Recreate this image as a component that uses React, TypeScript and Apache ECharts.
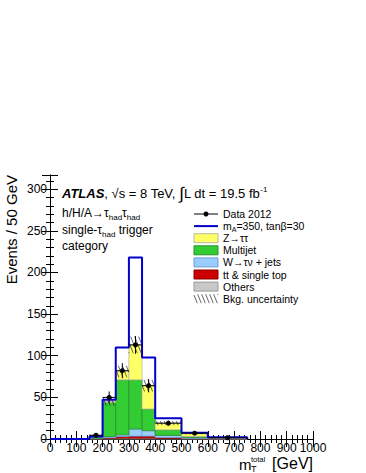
import React, { useEffect, useRef } from 'react';
import * as echarts from 'echarts';

// Histogram bins (GeV), values in Events / 50 GeV
const binEdges = [150, 200, 250, 300, 350, 400, 500, 600, 750];
const others = [0.2, 0.5, 1, 1, 1, 0.6, 0.3, 0.1];
const ttbar = [0.3, 1, 2, 2.5, 2.5, 1.2, 0.4, 0.1];
const wjets = [0.5, 1.5, 2, 8.5, 6.5, 2.5, 1, 0.3];
const multijet = [2.5, 41, 66, 59, 26, 6.7, 1.3, 0.5];
const ztautau = [0.9, 1, 10, 42, 28, 8, 3.5, 0.5];
const bkgUnc = [1, 5, 7, 10, 7, 2.5, 1, 0.5];
const signalEdges = [0, 150, 200, 250, 300, 350, 400, 500, 600, 750];
const signalTotal = [0, 3, 47, 110, 218, 98, 25, 7.5, 2];
const dataValues = [4.5, 50, 82, 113, 64, 19, 7, 1.5];

const FONT = 'Liberation Sans, Arial, Helvetica, sans-serif';

const components = [
  { name: 'Others', values: others, fill: '#c8c8c8', stroke: '#9a9a9a' },
  { name: 'tt & single top', values: ttbar, fill: '#cc0000', stroke: '#8a0000' },
  { name: 'W→τν + jets', values: wjets, fill: '#99ccff', stroke: '#6f9fd8' },
  { name: 'Multijet', values: multijet, fill: '#33cc33', stroke: '#2a8f2a' },
  { name: 'Z→ττ', values: ztautau, fill: '#ffff66', stroke: '#b8b8a0' },
];

function buildStackSeries() {
  const base = binEdges.slice(0, -1).map(() => 0);
  return components.map((c) => {
    const data = c.values.map((v, i) => {
      const item = [binEdges[i], binEdges[i + 1], base[i], base[i] + v];
      base[i] += v;
      return item;
    });
    return {
      type: 'custom',
      name: c.name,
      data,
      encode: { x: [0, 1], y: [2, 3] },
      z: 2,
      renderItem: (params: any, api: any) => {
        const p0 = api.coord([api.value(0), api.value(3)]);
        const p1 = api.coord([api.value(1), api.value(2)]);
        return {
          type: 'rect',
          shape: { x: p0[0], y: p0[1], width: p1[0] - p0[0], height: p1[1] - p0[1] },
          style: { fill: c.fill, stroke: c.stroke, lineWidth: 0.8 },
        };
      },
    };
  });
}

function hatchLines(xL: number, xR: number, yT: number, yB: number, k: number, step: number, width: number) {
  const lines: any[] = [];
  const cMin = yT - k * xR;
  const cMax = yB - k * xL;
  for (let c = Math.ceil(cMin / step) * step; c <= cMax; c += step) {
    const xs = Math.max(xL, (yT - c) / k);
    const xe = Math.min(xR, (yB - c) / k);
    if (xe > xs) {
      lines.push({
        type: 'line',
        shape: { x1: xs, y1: k * xs + c, x2: xe, y2: k * xe + c },
        style: { stroke: '#000', lineWidth: width },
      });
    }
  }
  return lines;
}

export default function App() {
  const ref = useRef<HTMLDivElement>(null);
  useEffect(() => {
    if (!ref.current) return;
    const chart = echarts.init(ref.current, null, { renderer: 'svg' });

    const totals = binEdges.slice(0, -1).map((_, i) =>
      components.reduce((s, c) => s + c.values[i], 0)
    );
    const uncData = totals.map((t, i) => [binEdges[i], binEdges[i + 1], t - bkgUnc[i], t + bkgUnc[i]]);

    const signalPoints: number[][] = signalTotal.map((v, i) => [signalEdges[i], v]);
    signalPoints.push([signalEdges[signalEdges.length - 1], signalTotal[signalTotal.length - 1]]);
    signalPoints.push([signalEdges[signalEdges.length - 1], 0]);

    const dataItems = dataValues.map((v, i) => {
      const w = (binEdges[i + 1] - binEdges[i]) / 50;
      const err = Math.sqrt(v * w) / w;
      return [(binEdges[i] + binEdges[i + 1]) / 2, binEdges[i], binEdges[i + 1], v, err];
    });

    const axisCommon = {
      axisLine: { show: true, lineStyle: { color: '#000', width: 1 } },
      axisTick: { show: true, inside: true, length: 8, lineStyle: { color: '#000', width: 1 } },
      minorTick: { show: true, splitNumber: 5, length: 4, lineStyle: { color: '#000', width: 1 } },
      splitLine: { show: false },
    };

    const legendY0 = 214;
    const legendDy = 12.1;
    const legendX = 194;
    const legendW = 24;
    const legendTextX = 223;
    const legendFont = 10.5;
    const legendEntries: any[] = [];
    legendEntries.push(
      { type: 'line', shape: { x1: legendX, y1: legendY0, x2: legendX + legendW, y2: legendY0 }, style: { stroke: '#000', lineWidth: 1 } },
      { type: 'circle', shape: { cx: legendX + legendW / 2, cy: legendY0, r: 2.5 }, style: { fill: '#000' } },
      { type: 'text', x: legendTextX, y: legendY0, style: { text: 'Data 2012', font: `${legendFont}px ${FONT}`, fill: '#000', textVerticalAlign: 'middle' } }
    );
    const ySig = legendY0 + legendDy;
    legendEntries.push(
      { type: 'line', shape: { x1: legendX, y1: ySig, x2: legendX + legendW, y2: ySig }, style: { stroke: '#0000cc', lineWidth: 2 } },
      {
        type: 'text', x: legendTextX, y: ySig,
        style: {
          text: '{n|m}{s|A}{n|=350, tanβ=30}',
          textVerticalAlign: 'middle',
          rich: {
            n: { fontSize: legendFont, fontFamily: FONT, lineHeight: 13, fill: '#000' },
            s: { fontSize: 7, fontFamily: FONT, lineHeight: 7, verticalAlign: 'bottom', fill: '#000' },
          },
        },
      }
    );
    const boxOrder = [4, 3, 2, 1, 0];
    boxOrder.forEach((ci, k) => {
      const c = components[ci];
      const y = legendY0 + legendDy * (k + 2);
      legendEntries.push(
        { type: 'rect', shape: { x: legendX, y: y - 4.5, width: legendW, height: 9 }, style: { fill: c.fill, stroke: c.stroke, lineWidth: 1 } },
        { type: 'text', x: legendTextX, y, style: { text: c.name, font: `${legendFont}px ${FONT}`, fill: '#000', textVerticalAlign: 'middle' } }
      );
    });
    const yUnc = legendY0 + legendDy * 7;
    legendEntries.push(
      { type: 'group', children: hatchLines(legendX, legendX + legendW, yUnc - 4.5, yUnc + 4.5, 2.5, 10, 0.6) },
      { type: 'text', x: legendTextX, y: yUnc, style: { text: 'Bkg. uncertainty', font: `${legendFont}px ${FONT}`, fill: '#000', textVerticalAlign: 'middle' } }
    );

    const option: any = {
      animation: false,
      backgroundColor: '#fff',
      grid: { left: 50, right: 53, top: 175, bottom: 34, containLabel: false },
      xAxis: [
        {
          type: 'value', min: 0, max: 1000, interval: 100, position: 'bottom',
          ...axisCommon,
          axisLabel: { color: '#000', fontSize: 12, fontFamily: FONT, margin: 3, formatter: (v: number) => String(v) },
        },
        {
          type: 'value', min: 0, max: 1000, interval: 100, position: 'top',
          ...axisCommon,
          axisLabel: { show: false },
        },
      ],
      yAxis: [
        {
          type: 'value', min: 0, max: 317, interval: 50, position: 'left',
          ...axisCommon,
          axisLabel: {
            color: '#000', fontSize: 12, fontFamily: FONT, margin: 3,
            formatter: (v: number) => (v % 50 === 0 ? String(v) : ''),
          },
        },
        {
          type: 'value', min: 0, max: 317, interval: 50, position: 'right',
          ...axisCommon,
          axisLabel: { show: false },
        },
      ],
      series: [
        ...buildStackSeries(),
        {
          type: 'custom',
          name: 'Bkg. uncertainty',
          data: uncData,
          encode: { x: [0, 1], y: [2, 3] },
          z: 3,
          renderItem: (params: any, api: any) => {
            const p0 = api.coord([api.value(0), api.value(3)]);
            const p1 = api.coord([api.value(1), api.value(2)]);
            return { type: 'group', children: hatchLines(p0[0], p1[0], p0[1], p1[1], 2.5, 10, 0.6) };
          },
        },
        {
          type: 'line',
          name: 'mA=350, tanβ=30',
          data: signalPoints,
          step: 'end',
          symbol: 'none',
          z: 4,
          lineStyle: { color: '#0000cc', width: 2 },
        },
        {
          type: 'custom',
          name: 'Data 2012',
          data: dataItems,
          encode: { x: 0, y: 3 },
          z: 5,
          renderItem: (params: any, api: any) => {
            const c = api.coord([api.value(0), api.value(3)]);
            const l = api.coord([api.value(1), api.value(3)]);
            const r = api.coord([api.value(2), api.value(3)]);
            const top = api.coord([api.value(0), api.value(3) + api.value(4)]);
            const bot = api.coord([api.value(0), Math.max(0, api.value(3) - api.value(4))]);
            return {
              type: 'group',
              children: [
                { type: 'line', shape: { x1: l[0], y1: c[1], x2: r[0], y2: c[1] }, style: { stroke: '#000', lineWidth: 1 } },
                { type: 'line', shape: { x1: c[0], y1: top[1], x2: c[0], y2: bot[1] }, style: { stroke: '#000', lineWidth: 1 } },
                { type: 'circle', shape: { cx: c[0], cy: c[1], r: 2.5 }, style: { fill: '#000' } },
              ],
            };
          },
        },
      ],
      graphic: [
        {
          type: 'text', x: 62, y: 193,
          style: {
            text: '{b|ATLAS}{n|, √s = 8 TeV, }{i|∫}{n|L dt = 19.5 fb}{p|-1}',
            textVerticalAlign: 'middle',
            rich: {
              b: { fontSize: 13, fontFamily: FONT, fontWeight: 'bold', fontStyle: 'italic', lineHeight: 16, fill: '#000' },
              n: { fontSize: 13, fontFamily: FONT, lineHeight: 16, fill: '#000' },
              i: { fontSize: 17, fontFamily: FONT, lineHeight: 16, fill: '#000' },
              p: { fontSize: 8, fontFamily: FONT, lineHeight: 8, verticalAlign: 'top', fill: '#000' },
            },
          },
        },
        {
          type: 'text', x: 62, y: 213,
          style: {
            text: '{n|h/H/A→τ}{s|had}{n|τ}{s|had}',
            textVerticalAlign: 'middle',
            rich: {
              n: { fontSize: 12, fontFamily: FONT, lineHeight: 16, fill: '#000' },
              s: { fontSize: 8, fontFamily: FONT, lineHeight: 8, verticalAlign: 'bottom', fill: '#000' },
            },
          },
        },
        {
          type: 'text', x: 62, y: 230,
          style: {
            text: '{n|single-τ}{s|had}{n| trigger}',
            textVerticalAlign: 'middle',
            rich: {
              n: { fontSize: 12, fontFamily: FONT, lineHeight: 16, fill: '#000' },
              s: { fontSize: 8, fontFamily: FONT, lineHeight: 8, verticalAlign: 'bottom', fill: '#000' },
            },
          },
        },
        {
          type: 'text', x: 62, y: 246,
          style: { text: 'category', font: `12px ${FONT}`, fill: '#000', textVerticalAlign: 'middle' },
        },
        {
          type: 'text', x: 11, y: 175, rotation: Math.PI / 2,
          style: { text: 'Events / 50 GeV', font: `15px ${FONT}`, fill: '#000', textAlign: 'right', textVerticalAlign: 'middle' },
        },
        { type: 'text', x: 239, y: 464, style: { text: 'm', font: `15px ${FONT}`, fill: '#000', textVerticalAlign: 'middle' } },
        { type: 'text', x: 251, y: 469, style: { text: 'T', font: `9px ${FONT}`, fill: '#000', textVerticalAlign: 'middle' } },
        { type: 'text', x: 251, y: 459, style: { text: 'total', font: `7.5px ${FONT}`, fill: '#000', textVerticalAlign: 'middle' } },
        { type: 'text', x: 313, y: 463, style: { text: '[GeV]', font: `16px ${FONT}`, fill: '#000', textAlign: 'right', textVerticalAlign: 'middle' } },
        ...legendEntries,
      ],
    };
    chart.setOption(option);
    return () => chart.dispose();
  }, []);
  return <div ref={ref} style={{ position: 'fixed', left: 0, top: 0, width: 366, height: 473, background: '#fff' }} />;
}
